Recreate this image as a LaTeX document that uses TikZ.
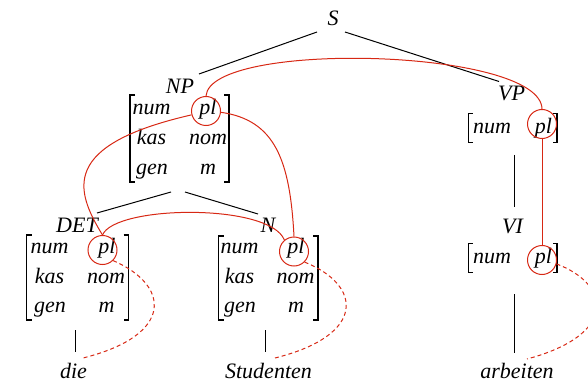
\documentclass[tikz,border=0pt]{standalone}
\usepackage{fontspec}
\setmainfont{Liberation Serif}
\definecolor{redc}{RGB}{215,40,20}
\begin{document}
\begin{tikzpicture}[x=1pt,y=-1pt,
  lbl/.style={inner sep=0pt,anchor=base,font=\fontsize{22}{26}\selectfont\itshape},
  pcirc/.style={circle,draw=redc,line width=1pt,minimum size=29pt,inner sep=0pt},
  treeline/.style={line width=1pt,black},
  brk/.style={line width=1.2pt,black},
  agree/.style={redc,line width=1pt},
  agreed/.style={redc,line width=1pt,dash pattern=on 4pt off 3pt}]
\useasboundingbox (0,0) rectangle (588,382);

% category labels
\node[lbl] (S) at (333,26) {S};
\node[lbl] (NP) at (180,94) {NP};
\node[lbl] (VP) at (511.5,101) {VP};
\node[lbl] (DET) at (77,232) {DET};
\node[lbl] (N) at (268,232) {N};
\node[lbl] (VI) at (512.5,233) {VI};
\node[lbl] (die) at (73.5,378) {die};
\node[lbl] (stud) at (268.5,378) {Studenten};
\node[lbl] (arb) at (517,378) {arbeiten};

% NP matrix
\node[lbl] (np-a1) at (151.5,115) {num};
\node[lbl] (np-b1) at (208,115) {pl};
\node[lbl] (np-a2) at (151.5,145) {kas};
\node[lbl] (np-b2) at (208,145) {nom};
\node[lbl] (np-a3) at (152,175) {gen};
\node[lbl] (np-b3) at (208,175) {m};
\draw[brk] (135,95) -- (130,95) -- (130,182) -- (135,182);
\draw[brk] (224,95) -- (229,95) -- (229,182) -- (224,182);

% DET matrix
\node[lbl] (det-a1) at (49.5,253) {num};
\node[lbl] (det-b1) at (107,253) {pl};
\node[lbl] (det-a2) at (49.5,283) {kas};
\node[lbl] (det-b2) at (106,283) {nom};
\node[lbl] (det-a3) at (50,312) {gen};
\node[lbl] (det-b3) at (106.5,312) {m};
\draw[brk] (31.5,235) -- (26.5,235) -- (26.5,320) -- (31.5,320);
\draw[brk] (123.5,235) -- (128.5,235) -- (128.5,320) -- (123.5,320);

% N matrix
\node[lbl] (n-a1) at (239.5,253) {num};
\node[lbl] (n-b1) at (296,253) {pl};
\node[lbl] (n-a2) at (239.5,283) {kas};
\node[lbl] (n-b2) at (295.5,283) {nom};
\node[lbl] (n-a3) at (240,312) {gen};
\node[lbl] (n-b3) at (296,312) {m};
\draw[brk] (223.5,236) -- (218.5,236) -- (218.5,320) -- (223.5,320);
\draw[brk] (313,236) -- (318,236) -- (318,320) -- (313,320);

% VP matrix
\node[lbl] (vp-a1) at (492,134) {num};
\node[lbl] (vp-b1) at (543.5,134) {pl};
\draw[brk] (472.5,113.5) -- (468.5,113.5) -- (468.5,142.5) -- (472.5,142.5);
\draw[brk] (553,113.5) -- (557,113.5) -- (557,142.5) -- (553,142.5);

% VI matrix
\node[lbl] (vi-a1) at (492,263) {num};
\node[lbl] (vi-b1) at (543.5,263) {pl};
\draw[brk] (472.5,243.5) -- (468.5,243.5) -- (468.5,272.5) -- (472.5,272.5);
\draw[brk] (553,243.5) -- (557,243.5) -- (557,272.5) -- (553,272.5);

% circles
\node[pcirc] (npc) at (206,111) {};
\node[pcirc] (detc) at (102.5,250) {};
\node[pcirc] (nc) at (294,251.5) {};
\node[pcirc] (vpc) at (542,124) {};
\node[pcirc] (vic) at (542,260) {};

% tree lines
\coordinate (s-l) at (317,32);   \coordinate (np-t) at (199,74);
\coordinate (s-r) at (345,32);   \coordinate (vp-t) at (499,81.5);
\coordinate (np-l) at (171,192); \coordinate (det-t) at (97,213);
\coordinate (np-r) at (185,192); \coordinate (n-t) at (258,214);
\coordinate (vp-b) at (514,155); \coordinate (vi-t) at (514,207);
\coordinate (det-b) at (75,330); \coordinate (die-t) at (75,352);
\coordinate (n-b) at (265,330);  \coordinate (stud-t) at (265,352);
\coordinate (vi-b) at (514,294); \coordinate (arb-t) at (514,353);
\draw[treeline] (s-l) -- (np-t);
\draw[treeline] (s-r) -- (vp-t);
\draw[treeline] (np-l) -- (det-t);
\draw[treeline] (np-r) -- (n-t);
\draw[treeline] (vp-b) -- (vi-t);
\draw[treeline] (det-b) -- (die-t);
\draw[treeline] (n-b) -- (stud-t);
\draw[treeline] (vi-b) -- (arb-t);

% agreement links
\draw[agree] (npc.north) .. controls (210,40) and (541,48) .. (vpc.north);
\draw[agree] (npc.195) .. controls (60,145) and (75,190) .. (detc.north);
\draw[agree] (npc.-5) .. controls (275,120) and (290,160) .. (nc.north);
\draw[agree] (detc.north) .. controls (115,205) and (270,203) .. (nc.130);
\draw[agree] (vpc.south) -- (vic.north);

% dashed links to words
\coordinate (die-e) at (83,358);
\coordinate (stud-e) at (275,358);
\coordinate (arb-e) at (527,359);
\draw[agreed] (detc.-45) .. controls (170,285) and (175,335) .. (die-e);
\draw[agreed] (nc.-45) .. controls (362,285) and (367,335) .. (stud-e);
\draw[agreed] (vic.-15) .. controls (612,285) and (617,335) .. (arb-e);
\end{tikzpicture}
\end{document}
